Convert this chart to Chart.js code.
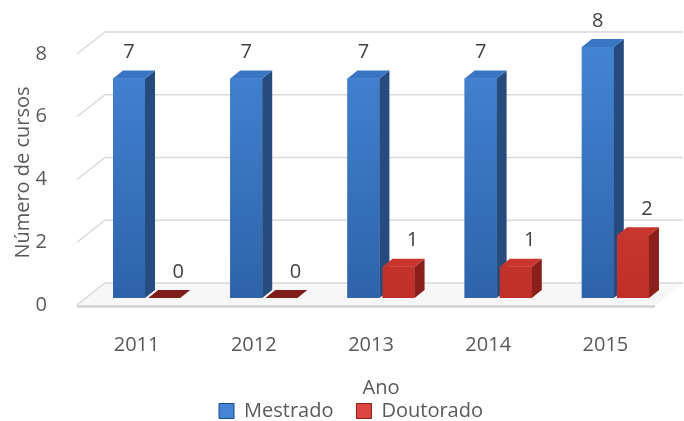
<!DOCTYPE html>
<html lang="pt">
<head>
<meta charset="UTF-8" />
<title>Número de cursos por ano</title>
<script src="https://cdn.jsdelivr.net/npm/chart.js@4"></script>
<style>
  html, body { margin: 0; padding: 0; background: #fff; }
  #wrap { width: 684px; height: 421px; position: relative; }
</style>
</head>
<body>
<div id="wrap"><canvas id="cursosChart"></canvas></div>
<script>
const anos = ['2011', '2012', '2013', '2014', '2015'];
const mestrado = [7, 7, 7, 7, 8];
const doutorado = [0, 0, 1, 1, 2];
const yTicks = [0, 2, 4, 6, 8];

const FONT = "'Open Sans', sans-serif";
const TXT = '#595959';

// colours for the faces of the "3D" bars
const faces = [
  { front: ['#4384d3', '#2e63aa'], side: '#264b7f', top: '#3a75c4', edge: '#1f4e8c' },
  { front: ['#de453e', '#c02f29'], side: '#8a1f1c', top: '#c8342e', edge: '#8b1f1b', flat: '#7e1c1a' }
];
const DX = 10, DY = 8;

function frontGradient(chart, i) {
  const area = chart.chartArea;
  if (!area) return faces[i].front[0];
  const g = chart.ctx.createLinearGradient(0, area.top, 0, area.bottom);
  g.addColorStop(0, faces[i].front[0]);
  g.addColorStop(1, faces[i].front[1]);
  return g;
}

// back wall + floor, drawn before the bars
const wallPlugin = {
  id: 'wall',
  beforeDatasetsDraw(chart) {
    const c = chart.ctx;
    const y = chart.scales.y;
    const { left, right } = chart.chartArea;
    const y0 = y.getPixelForValue(0);
    c.save();
    // floor
    c.beginPath();
    c.moveTo(left - 11, y0 + 8);
    c.lineTo(left + 17, y0 - 15);
    c.lineTo(right + 9, y0 - 15);
    c.lineTo(right - 19, y0 + 8);
    c.closePath();
    c.fillStyle = '#f7f7f7';
    c.fill();
    c.strokeStyle = '#d9d9d9';
    c.lineWidth = 1.5;
    yTicks.forEach(v => {
      const py = y.getPixelForValue(v);
      c.beginPath();
      c.moveTo(left - 11, py + 7);
      c.lineTo(left + 17, py - 15);
      c.lineTo(right + 9, py - 15);
      c.stroke();
    });
    // front edge of the floor
    c.strokeStyle = '#d0d0d0';
    c.lineWidth = 2.5;
    c.beginPath();
    c.moveTo(left - 11, y0 + 8.5);
    c.lineTo(right - 19, y0 + 8.5);
    c.stroke();
    c.restore();
  }
};

// side and top faces, plus value labels
const bars3dPlugin = {
  id: 'bars3d',
  afterDatasetsDraw(chart) {
    const c = chart.ctx;
    const counts = chart.data.labels.length;
    for (let i = 0; i < counts; i++) {
      chart.data.datasets.forEach((ds, di) => {
        const bar = chart.getDatasetMeta(di).data[i];
        const { x, y, base, width } = bar.getProps(['x', 'y', 'base', 'width'], true);
        const l = x - width / 2, r = x + width / 2;
        const f = faces[di];
        c.save();
        if (base - y > 0.5) {
          c.fillStyle = frontGradient(chart, di);
          c.fillRect(l, y, width, base - y);
          c.beginPath();
          c.moveTo(r, y);
          c.lineTo(r + DX, y - DY);
          c.lineTo(r + DX, base - DY);
          c.lineTo(r, base);
          c.closePath();
          c.fillStyle = f.side;
          c.fill();
        }
        c.beginPath();
        c.moveTo(l, y);
        c.lineTo(l + DX, y - DY);
        c.lineTo(r + DX, y - DY);
        c.lineTo(r, y);
        c.closePath();
        c.fillStyle = base - y > 0.5 ? f.top : (f.flat || f.side);
        c.fill();
        c.restore();
      });
    }
    // labels
    c.save();
    c.font = '20px ' + FONT;
    c.fillStyle = '#404040';
    c.textAlign = 'center';
    c.textBaseline = 'middle';
    chart.data.datasets.forEach((ds, di) => {
      chart.getDatasetMeta(di).data.forEach((bar, i) => {
        c.fillText(String(ds.data[i]), bar.x + (di ? 14 : 0), bar.y - 26);
      });
    });
    c.restore();
  }
};

// move the legend a little lower and to the right
const legendShift = {
  id: 'legendShift',
  afterLayout(chart) {
    const lg = chart.legend;
    lg.top += 10; lg.bottom += 10;
    lg.left += 14; lg.right += 14;
  }
};

new Chart(document.getElementById('cursosChart'), {
  type: 'bar',
  data: {
    labels: anos,
    datasets: [
      { label: 'Mestrado', data: mestrado, backgroundColor: ctx => frontGradient(ctx.chart, 0) },
      { label: 'Doutorado', data: doutorado, backgroundColor: ctx => frontGradient(ctx.chart, 1) }
    ]
  },
  options: {
    responsive: true,
    maintainAspectRatio: false,
    animation: false,
    layout: { padding: { top: 47, right: 10, left: 0, bottom: 0 } },
    datasets: { bar: { categoryPercentage: 0.6, barPercentage: 0.91 } },
    scales: {
      x: {
        grid: { display: false },
        border: { display: false },
        ticks: { color: TXT, font: { family: FONT, size: 20 }, padding: 27, labelOffset: -10 },
        title: { display: true, text: 'Ano', color: TXT, font: { family: FONT, size: 20 }, padding: { top: 0, bottom: -32 } },
        afterFit: s => { s.height = 70; }
      },
      y: {
        min: 0,
        max: 8,
        grid: { display: false },
        border: { display: false },
        afterBuildTicks: s => { s.ticks = yTicks.map(v => ({ value: v })); },
        ticks: { color: TXT, font: { family: FONT, size: 20 }, padding: 33, labelOffset: 7 },
        title: { display: true, text: 'Número de cursos', color: TXT, font: { family: FONT, size: 20 }, padding: { top: 11, bottom: 0 } },
        afterFit: s => { s.width = 88; }
      }
    },
    plugins: {
      tooltip: { enabled: false },
      legend: {
        position: 'bottom',
        labels: {
          boxWidth: 15,
          boxHeight: 15,
          padding: 23,
          color: TXT,
          font: { family: FONT, size: 20 },
          generateLabels: chart => chart.data.datasets.map((ds, i) => ({
            text: ds.label,
            fillStyle: faces[i].front[0],
            strokeStyle: faces[i].edge,
            lineWidth: 1,
            hidden: false,
            datasetIndex: i,
            fontColor: TXT
          }))
        }
      }
    }
  },
  plugins: [wallPlugin, bars3dPlugin, legendShift]
});
</script>
</body>
</html>
